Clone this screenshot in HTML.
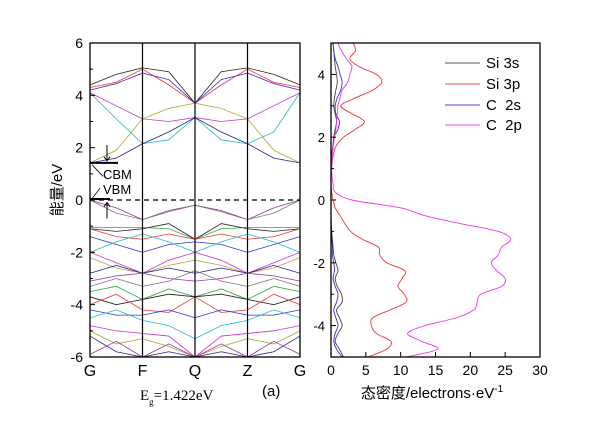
<!DOCTYPE html>
<html><head><meta charset="utf-8"><style>
body{margin:0;background:#fff;}
svg{display:block;font-family:"Liberation Sans","Noto Sans CJK SC",sans-serif;}
</style></head><body>
<svg id="chart" width="600" height="421" viewBox="0 0 600 421">
<g id="bands"></g>
<g id="dos"></g>
<g id="axes"></g>
<text x="62" y="190" font-size="15" text-anchor="middle" transform="rotate(-90 62 190)">能量/eV</text>
<text x="432" y="398" font-size="15" text-anchor="middle">态密度/electrons·eV<tspan dy="-6" font-size="10">-1</tspan></text>
<text x="140" y="400" font-size="15" font-family="Liberation Serif,serif">E<tspan dy="5" font-size="9">g</tspan><tspan dy="-5">=1.422eV</tspan></text>
<text x="262" y="396" font-size="15">(a)</text>
<g>
<line x1="445" y1="63" x2="480" y2="63" stroke="#555"/>
<text x="486" y="68" font-size="15">Si 3s</text>
<line x1="445" y1="84" x2="480" y2="84" stroke="#e44"/>
<text x="486" y="89" font-size="15">Si 3p</text>
<line x1="445" y1="105" x2="480" y2="105" stroke="#44c"/>
<text x="486" y="110" font-size="15" xml:space="preserve">C  2s</text>
<line x1="445" y1="125" x2="480" y2="125" stroke="#e4e"/>
<text x="486" y="130" font-size="15" xml:space="preserve">C  2p</text>
</g>
</svg>
<script>
// ---- Band structure data (energies at 9 k-samples: G, .., F, .., Q, .., Z, .., G)
const kLabels=["G","F","Q","Z","G"];
const bandYTicks=[6,4,2,0,-2,-4,-6];
const conductionBands=[
[4.4,4.8,5.05,4.9,3.7,4.9,5.05,4.8,4.4],
[4.3,4.5,5.0,4.4,3.7,4.4,5.0,4.5,4.3],
[4.2,4.45,4.85,4.6,3.7,4.6,4.85,4.45,4.2],
[4.1,3.1,2.15,2.3,3.15,2.3,2.15,2.6,4.1],
[4.1,3.6,3.1,3.0,3.15,3.0,3.1,3.6,4.1],
[1.42,1.9,3.1,3.5,3.7,3.5,3.1,1.9,1.42],
[1.42,1.6,2.15,2.6,3.15,2.6,2.15,1.6,1.42]];
const valenceBands=[
[0,-0.3,-0.75,-0.4,-0.2,-0.4,-0.75,-0.3,0],
[0,-0.5,-0.75,-0.45,-0.2,-0.45,-0.75,-0.5,0],
[-1.05,-1.05,-1.05,-1.1,-1.5,-1.1,-1.05,-1.05,-1.05],
[-1.1,-1.2,-1.1,-0.9,-1.5,-0.9,-1.1,-1.2,-1.1],
[-1.1,-1.4,-1.5,-1.3,-1.5,-1.3,-1.5,-1.4,-1.1],
[-1.4,-1.7,-2.0,-1.7,-1.6,-1.7,-2.0,-1.7,-1.4],
[-2.0,-1.6,-1.3,-1.6,-2.0,-1.6,-1.3,-1.6,-2.0],
[-2.0,-2.4,-2.8,-2.3,-2.0,-2.3,-2.8,-2.4,-2.0],
[-2.2,-2.6,-2.8,-2.5,-2.3,-2.5,-2.8,-2.6,-2.2],
[-2.8,-2.5,-2.8,-2.6,-2.8,-2.6,-2.8,-2.5,-2.8],
[-3.1,-2.9,-2.8,-3.0,-3.1,-3.0,-2.8,-2.9,-3.1],
[-3.3,-3.0,-3.3,-3.1,-2.7,-3.1,-3.3,-3.0,-3.3],
[-3.5,-3.3,-3.8,-3.4,-3.7,-3.4,-3.8,-3.3,-3.5],
[-3.7,-4.0,-3.8,-3.6,-3.7,-3.6,-3.8,-4.0,-3.7],
[-4.0,-3.6,-4.2,-4.3,-3.7,-4.3,-4.2,-3.6,-4.0],
[-4.2,-4.4,-4.4,-4.2,-4.5,-4.2,-4.4,-4.4,-4.2],
[-4.5,-4.2,-4.6,-4.8,-5.3,-4.8,-4.6,-4.2,-4.5],
[-4.8,-5.0,-5.1,-5.2,-6.0,-5.2,-5.1,-5.0,-4.8],
[-5.0,-5.5,-5.3,-5.6,-6.0,-5.6,-5.3,-5.5,-5.0],
[-5.2,-5.8,-6.0,-5.8,-6.0,-5.8,-6.0,-5.8,-5.2],
[-5.9,-5.4,-6.0,-5.5,-6.0,-5.5,-6.0,-5.4,-5.9],
[-6.0,-6.0,-6.0,-6.0,-6.0,-6.0,-6.0,-6.0,-6.0]];
// ---- DOS data (energy grid from -5 to 5 step 0.25)
const dosEnergy=[-5,-4.75,-4.5,-4.25,-4,-3.75,-3.5,-3.25,-3,-2.75,-2.5,-2.25,-2,-1.75,-1.5,-1.25,-1,-0.75,-0.5,-0.25,0,0.25,0.5,0.75,1,1.25,1.5,1.75,2,2.25,2.5,2.75,3,3.25,3.5,3.75,4,4.25,4.5,4.75,5];
const dosSi3s=[1.8,1.2,0.6,1.0,1.6,1.2,0.8,1.6,1.5,0.9,0.6,1.0,0.7,0.4,0.3,0.2,0.1,0.05,0,0,0,0,0,0,0.05,0.1,0.2,0.3,0.4,0.6,0.8,0.6,0.4,0.5,0.7,0.9,0.8,0.6,0.5,0.4,0.3];
const dosSi3p=[5.3,8.0,8.6,6.5,5.8,6.0,8.5,10.8,10.5,9.6,10.2,10.6,8.0,7.0,6.8,4.5,2.8,2.0,1.3,0.6,0.3,0.1,0,0,0.1,0.2,0.4,0.8,1.8,3.5,4.8,3.0,1.4,3.5,6.0,7.3,6.5,4.0,2.7,3.5,3.2];
const dosC2s=[1.6,0.8,0.4,0.6,1.0,0.7,0.4,0.8,1.0,0.6,0.3,0.5,0.4,0.2,0.2,0.1,0.05,0,0,0,0,0,0,0,0,0.05,0.1,0.3,0.4,1.0,1.2,0.7,0.6,0.9,1.4,1.6,1.3,1.0,0.6,0.4,0.3];
const dosC2p=[10.8,15.3,13.0,11.0,13.5,18.0,20.5,21.0,21.5,24.5,25.0,23.8,23.0,24.0,24.5,25.8,24.0,18.5,13.5,10.0,3.0,0.6,0.3,0.15,0.1,0.15,0.2,0.35,0.5,0.7,0.8,0.9,1.0,1.3,1.6,2.4,2.7,3.0,2.2,1.5,1.0];
const dosXTicks=[0,5,10,15,20,25,30];
const dosYTicks=[4,2,0,-2,-4];

const NS="http://www.w3.org/2000/svg";
function el(tag,attrs,parent){const e=document.createElementNS(NS,tag);for(const k in attrs)e.setAttribute(k,attrs[k]);parent.appendChild(e);return e;}
// left panel axes
const L={x0:90,x1:300,y0:43,y1:357,emin:-6,emax:6};
const bx=i=>L.x0+(L.x1-L.x0)*i/8;
const by=e=>L.y1-(e-L.emin)/(L.emax-L.emin)*(L.y1-L.y0);
// right panel
const R={x0:331,x1:540,y0:43,y1:357,xmax:30,emin:-5,emax:5};
const dx=v=>R.x0+v/R.xmax*(R.x1-R.x0);
const dy=e=>R.y1-(e-R.emin)/(R.emax-R.emin)*(R.y1-R.y0);

const colors=["#222","#e33","#33c","#2bb","#c3c","#aa3","#228","#939","#777","#3a3"];
const gB=document.getElementById('bands');
conductionBands.concat(valenceBands).forEach((b,i)=>{
  const p=el('polyline',{points:b.map((e,k)=>bx(k)+','+by(e)).join(' '),fill:'none',stroke:colors[i%colors.length],'stroke-width':0.8},gB);
  
  
});
function smooth(xs,ys){let d='M'+xs[0]+','+ys[0];for(let i=0;i<xs.length-1;i++){const x0=xs[Math.max(i-1,0)],y0=ys[Math.max(i-1,0)],x3=xs[Math.min(i+2,xs.length-1)],y3=ys[Math.min(i+2,ys.length-1)];d+=' C'+(xs[i]+(xs[i+1]-x0)/6)+','+(ys[i]+(ys[i+1]-y0)/6)+' '+(xs[i+1]-(x3-xs[i])/6)+','+(ys[i+1]-(y3-ys[i])/6)+' '+xs[i+1]+','+ys[i+1];}return d;}
const gD=document.getElementById('dos');
[[dosSi3s,'#444','dos-si3s'],[dosSi3p,'#e33','dos-si3p'],[dosC2s,'#33c','dos-c2s'],[dosC2p,'#e3e','dos-c2p']].forEach(([arr,c,n])=>{
  const p=el('path',{d:smooth(arr.map(dx),dosEnergy.map(dy)),fill:'none',stroke:c,'stroke-width':0.9},gD);
  
  
});
const gA=document.getElementById('axes');
// left frame & symmetry lines
el('rect',{x:L.x0,y:L.y0,width:L.x1-L.x0,height:L.y1-L.y0,fill:'none',stroke:'#000','stroke-width':1.3},gA);
for(let i=1;i<4;i++){const l=el('line',{x1:bx(i*2),x2:bx(i*2),y1:L.y0,y2:L.y1,stroke:'#000','stroke-width':1.2},gA);}
el('line',{x1:L.x0,x2:L.x1,y1:by(0),y2:by(0),stroke:'#000','stroke-width':1.2,'stroke-dasharray':'5,4'},gA);
for(let e=-6;e<=6;e++){el('line',{x1:L.x0,x2:L.x0+(e%2?3:5),y1:by(e),y2:by(e),stroke:'#000'},gA);}
bandYTicks.forEach(t=>{const tx=el('text',{x:L.x0-7,y:by(t)+5,'font-size':14,'text-anchor':'end'},gA);tx.textContent=t;});
kLabels.forEach((k,i)=>{const tx=el('text',{x:bx(i*2),y:376,'font-size':16,'text-anchor':'middle'},gA);tx.textContent=k;});
// CBM / VBM annotation
el('line',{x1:L.x0,x2:L.x0+28,y1:by(1.42),y2:by(1.42),stroke:'#000','stroke-width':2},gA);
el('line',{x1:L.x0,x2:L.x0+20,y1:by(0)-1,y2:by(0)-1,stroke:'#000','stroke-width':2},gA);
el('path',{d:`M${L.x0+17},${by(2.1)} L${L.x0+17},${by(1.5)} M${L.x0+14},${by(1.65)} L${L.x0+17},${by(1.5)} L${L.x0+20},${by(1.65)}`,fill:'none',stroke:'#000'},gA);
el('path',{d:`M${L.x0+17},${by(-0.7)} L${L.x0+17},${by(-0.1)} M${L.x0+14},${by(-0.25)} L${L.x0+17},${by(-0.1)} L${L.x0+20},${by(-0.25)}`,fill:'none',stroke:'#000'},gA);
el('path',{d:`M${L.x0+13},${by(0.9)} L${L.x0+2},${by(1.35)} M${L.x0+10},${by(0.45)} L${L.x0+2},${by(0.05)}`,fill:'none',stroke:'#000','stroke-width':0.8},gA);
let t1=el('text',{x:103,y:179,'font-size':13},gA);t1.textContent='CBM';
let t2=el('text',{x:103,y:194,'font-size':13},gA);t2.textContent='VBM';
// right frame
el('rect',{x:R.x0,y:R.y0,width:R.x1-R.x0,height:R.y1-R.y0,fill:'none',stroke:'#000','stroke-width':1.3},gA);
for(let e=-5;e<=5;e++){el('line',{x1:R.x0,x2:R.x0+(e%2?3:5),y1:dy(e),y2:dy(e),stroke:'#000'},gA);}
dosYTicks.forEach(t=>{const tx=el('text',{x:R.x0-6,y:dy(t)+5,'font-size':13,'text-anchor':'end'},gA);tx.textContent=t;});
dosXTicks.forEach(t=>{el('line',{x1:dx(t),x2:dx(t),y1:R.y1,y2:R.y1-5,stroke:'#000'},gA);const tx=el('text',{x:dx(t),y:375,'font-size':14,'text-anchor':'middle'},gA);tx.textContent=t;});
</script>
</body></html>
